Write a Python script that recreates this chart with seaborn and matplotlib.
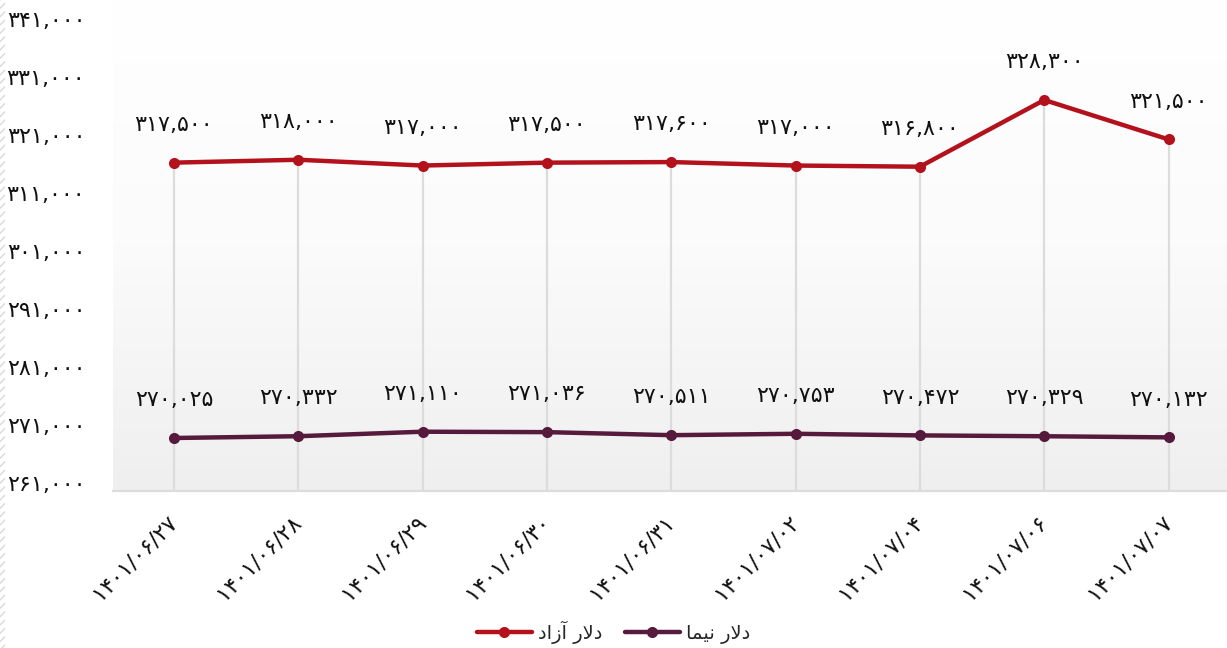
import numpy as np
import pandas as pd
import seaborn as sns
import matplotlib.pyplot as plt
import matplotlib.transforms as mtransforms
from matplotlib.patches import Rectangle

# data
dates = ["1401/06/27", "1401/06/28", "1401/06/29", "1401/06/30", "1401/06/31",
         "1401/07/02", "1401/07/04", "1401/07/06", "1401/07/07"]
free_dollar = [317500, 318000, 317000, 317500, 317600, 317000, 316800, 328300, 321500]
nima_dollar = [270025, 270332, 271110, 271036, 270511, 270753, 270472, 270329, 270132]
series_names = ["دلار آزاد", "دلار نیما"]
series_colors = ["#b3121c", "#561a3d"]
y_ticks = [261000, 271000, 281000, 291000, 301000, 311000, 321000, 331000, 341000]

FA_DIGITS = str.maketrans("0123456789", "۰۱۲۳۴۵۶۷۸۹")


def fa(s):
    return str(s).translate(FA_DIGITS)


def fa_num(v):
    return fa(f"{v:,}")


# minimal arabic shaping for the legend words (matplotlib has no shaping/bidi)
FORMS = {  # isolated, final, initial, medial
    "د": ("\uFEA9", "\uFEAA", None, None),
    "ر": ("\uFEAD", "\uFEAE", None, None),
    "ز": ("\uFEAF", "\uFEB0", None, None),
    "ا": ("\uFE8D", "\uFE8E", None, None),
    "آ": ("\uFE81", "\uFE82", None, None),
    "ل": ("\uFEDD", "\uFEDE", "\uFEDF", "\uFEE0"),
    "ن": ("\uFEE5", "\uFEE6", "\uFEE7", "\uFEE8"),
    "م": ("\uFEE1", "\uFEE2", "\uFEE3", "\uFEE4"),
    "ی": ("\uFBFC", "\uFBFD", "\uFBFE", "\uFBFF"),
}


def shape_word(w):
    out = []
    i = 0
    while i < len(w):
        c = w[i]
        prev_joins = i > 0 and FORMS.get(w[i - 1], (None,) * 4)[2] is not None
        # lam-alef ligature
        if c == "ل" and i + 1 < len(w) and w[i + 1] in "اآ":
            out.append("\uFEFC" if prev_joins else "\uFEFB")
            i += 2
            continue
        f = FORMS.get(c)
        if f is None:
            out.append(c)
            i += 1
            continue
        next_exists = i + 1 < len(w) and w[i + 1] in FORMS
        joins_next = f[2] is not None and next_exists
        if prev_joins and joins_next:
            out.append(f[3])
        elif prev_joins:
            out.append(f[1])
        elif joins_next:
            out.append(f[2])
        else:
            out.append(f[0])
        i += 1
    return "".join(out)


def rtl(text):
    return " ".join(shape_word(w)[::-1] for w in text.split(" ")[::-1])


df = pd.DataFrame({
    "idx": list(range(len(dates))) * 2,
    "value": free_dollar + nima_dollar,
    "series": [series_names[0]] * len(dates) + [series_names[1]] * len(dates),
})

sns.set_style("white")
plt.rcParams['font.family'] = ['DejaVu Sans']

W, H = 1227, 648
fig = plt.figure(figsize=(W / 100, H / 100), dpi=100)
ax = fig.add_axes([113 / W, 1 - 491 / H, (W - 113) / W, 491 / H])

ymin, ymax = 260887, 345542
ax.set_xlim(-0.49, 8.47)
ax.set_ylim(ymin, ymax)

# gradient background
grad = np.linspace(0, 1, 256).reshape(-1, 1)
cmap = plt.matplotlib.colors.LinearSegmentedColormap.from_list("bg", ["#ffffff", "#fbfbfb", "#efefef"])
ax.imshow(grad, extent=[-0.49, 8.47, ymin, ymax], aspect="auto", cmap=cmap,
          origin="upper", zorder=0)

# drop lines from top series
ax.vlines(range(len(dates)), ymin, free_dollar, color="#dcdcdc", lw=1.6, zorder=1)

sns.lineplot(data=df, x="idx", y="value", hue="series", palette=series_colors,
             marker="o", markersize=8, markeredgewidth=0, linewidth=3.2,
             ax=ax, zorder=3, legend=True)

# data labels
for vals in (free_dollar, nima_dollar):
    for i, v in enumerate(vals):
        ax.annotate(fa_num(v), (i, v), xytext=(0, 20), textcoords="offset points",
                    ha="center", va="bottom", fontsize=16, color="#111111")

ax.set_yticks(y_ticks)
ax.set_yticklabels([fa_num(t) for t in y_ticks], fontsize=16)
ax.tick_params(axis="y", length=0, pad=20, colors="#111111")
off = mtransforms.ScaledTranslation(0, 5 / 72, fig.dpi_scale_trans)
for lab in ax.get_yticklabels():
    lab.set_transform(lab.get_transform() + off)

ax.set_xticks(range(len(dates)))
ax.set_xticklabels([fa(d) for d in dates], rotation=45, ha="right",
                   rotation_mode="anchor", va="center", fontsize=16)
ax.tick_params(axis="x", length=0, pad=20, colors="#111111")
ax.set_xlabel("")
ax.set_ylabel("")

for s in ["top", "right", "left"]:
    ax.spines[s].set_visible(False)
ax.spines["bottom"].set_color("#dcdcdc")
ax.spines["bottom"].set_linewidth(1.6)
ax.spines["bottom"].set_zorder(2)

handles, labels = ax.get_legend_handles_labels()
ax.legend_.remove()
fig.legend(handles, [rtl(l) for l in labels], loc="center", bbox_to_anchor=(0.5, 1 - 632 / H),
           ncol=2, frameon=False, fontsize=14, handlelength=2.8, columnspacing=1.2,
           handletextpad=0.3)

# hatched strip on the left edge
fig.patches.append(Rectangle((0, 0), 5 / W, 1, transform=fig.transFigure, facecolor="white",
                             edgecolor="#d8d8d8", hatch="////", lw=0))

fig.savefig("out.png", dpi=100)
